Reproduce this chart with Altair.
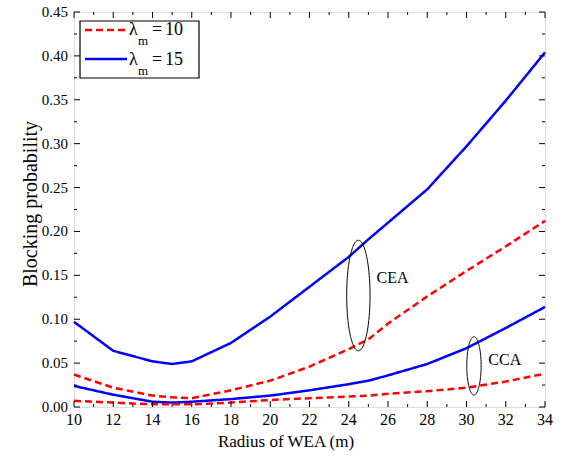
import altair as alt
import numpy as np
import pandas as pd

# ---------------- data ----------------
radius = [10, 12, 14, 15, 16, 18, 20, 22, 24, 25, 26, 28, 30, 32, 34]
cea_l15 = [0.097, 0.064, 0.052, 0.049, 0.052, 0.073, 0.103, 0.137, 0.171, 0.191, 0.210, 0.248, 0.297, 0.349, 0.404]
cea_l10 = [0.037, 0.022, 0.013, 0.011, 0.010, 0.019, 0.030, 0.046, 0.066, 0.077, 0.095, 0.126, 0.155, 0.183, 0.212]
cca_l15 = [0.024, 0.014, 0.006, 0.005, 0.006, 0.009, 0.013, 0.019, 0.026, 0.030, 0.036, 0.049, 0.067, 0.090, 0.114]
cca_l10 = [0.007, 0.005, 0.003, 0.003, 0.003, 0.005, 0.008, 0.010, 0.012, 0.013, 0.015, 0.018, 0.022, 0.029, 0.038]

x_major = [10, 12, 14, 16, 18, 20, 22, 24, 26, 28, 30, 32, 34]
x_minor = [11, 13, 15, 17, 19, 21, 23, 25, 27, 29, 31, 33]
y_major = [0.0, 0.05, 0.10, 0.15, 0.20, 0.25, 0.30, 0.35, 0.40, 0.45]
y_minor = [0.025, 0.075, 0.125, 0.175, 0.225, 0.275, 0.325, 0.375, 0.425]

x_title = "Radius of WEA (m)"
y_title = "Blocking probability"

# ellipse annotations: centre x, centre y, half width, half height
ell_cea = (24.49, 0.127, 0.595, 0.063)
ell_cca = (30.38, 0.0469, 0.365, 0.0332)

FONT = "Liberation Serif"
W, H = 471, 395

rows = []
for name, lam, vals in [("CEA15", "15", cea_l15), ("CEA10", "10", cea_l10),
                        ("CCA15", "15", cca_l15), ("CCA10", "10", cca_l10)]:
    for xv, yv in zip(radius, vals):
        rows.append({"curve": name, "lam": lam, "x": xv, "y": yv})
df = pd.DataFrame(rows)

xs = alt.Scale(domain=[10, 34], nice=False, zero=False)
ys = alt.Scale(domain=[0, 0.45], nice=False, zero=False)


def X(field):
    return alt.X(field, scale=xs, axis=None)


def Y(field):
    return alt.Y(field, scale=ys, axis=None)


lines = alt.Chart(df).mark_line(strokeWidth=2.5).encode(
    x=X("x:Q"),
    y=Y("y:Q"),
    color=alt.Color("lam:N", scale=alt.Scale(domain=["10", "15"], range=["#ff0000", "#0000ff"]), legend=None),
    strokeDash=alt.StrokeDash("lam:N", scale=alt.Scale(domain=["10", "15"], range=[[7, 4], [1, 0]]), legend=None),
    detail="curve:N",
)


# tick marks (inward, all four sides)
def tick_layers(vals, length, axis):
    d = pd.DataFrame({"v": vals})
    base = alt.Chart(d).mark_rule(color="black", strokeWidth=1)
    if axis == "x":
        return [
            base.encode(x=X("v:Q"), y=alt.value(H), y2=alt.value(H - length)),
            base.encode(x=X("v:Q"), y=alt.value(0), y2=alt.value(length)),
        ]
    return [
        base.encode(y=Y("v:Q"), x=alt.value(0), x2=alt.value(length)),
        base.encode(y=Y("v:Q"), x=alt.value(W), x2=alt.value(W - length)),
    ]


ticks = (tick_layers(x_major, 6, "x") + tick_layers(x_minor, 3, "x")
         + tick_layers(y_major, 6, "y") + tick_layers(y_minor, 3, "y"))

# tick labels as text marks
xlab = alt.Chart(pd.DataFrame({"v": x_major})).mark_text(
    font=FONT, fontSize=16, color="black", align="center", baseline="top").encode(
    x=X("v:Q"), y=alt.value(H + 5), text=alt.Text("v:Q", format="d"))
ylab = alt.Chart(pd.DataFrame({"v": y_major})).mark_text(
    font=FONT, fontSize=15, color="black", align="right", baseline="middle").encode(
    y=Y("v:Q"), x=alt.value(-6), text=alt.Text("v:Q", format=".2f"))


# ellipses
def ellipse(params):
    cx, cy, rx, ry = params
    t = np.linspace(0, 2 * np.pi, 121)
    d = pd.DataFrame({"i": np.arange(len(t)), "x": cx + rx * np.cos(t), "y": cy + ry * np.sin(t)})
    return alt.Chart(d).mark_line(color="black", strokeWidth=1).encode(
        x=X("x:Q"), y=Y("y:Q"), order="i:Q")


one = pd.DataFrame({"a": [0]})


def txt(text, x, y, size=16, align="left", baseline="alphabetic", angle=0):
    return alt.Chart(one).mark_text(text=text, font=FONT, fontSize=size, color="black",
                                    align=align, baseline=baseline, angle=angle).encode(
        x=alt.value(x), y=alt.value(y))


titles = [
    txt(x_title, 212, H + 40, 17, align="center"),
    txt(y_title, -43, 192, 20, align="center", baseline="middle", angle=270),
]

label_df = pd.DataFrame({"t": ["CEA", "CCA"], "x": [25.42, 31.11], "y": [0.1409, 0.0478]})
labels = alt.Chart(label_df).mark_text(font=FONT, fontSize=16, color="black", align="left",
                                       baseline="alphabetic").encode(
    x=X("x:Q"), y=Y("y:Q"), text="t:N")

# legend (manual, to get the subscript)
legend = [
    alt.Chart(one).mark_rect(fill="white", stroke="black", strokeWidth=1.2).encode(
        x=alt.value(6), x2=alt.value(125), y=alt.value(9), y2=alt.value(66)),
    alt.Chart(one).mark_rule(color="#ff0000", strokeWidth=2.5, strokeDash=[7, 4]).encode(
        x=alt.value(11), x2=alt.value(53), y=alt.value(18)),
    alt.Chart(one).mark_rule(color="#0000ff", strokeWidth=2.5).encode(
        x=alt.value(11), x2=alt.value(53), y=alt.value(47)),
    txt("λ", 55, 23, 18), txt("m", 64, 33, 13), txt("=", 78, 23, 18), txt("10", 91, 23, 18),
    txt("λ", 55, 52.5, 18), txt("m", 64, 62.5, 13), txt("=", 78, 52.5, 18), txt("15", 91, 52.5, 18),
]

chart = alt.layer(lines, *ticks, xlab, ylab, *titles, ellipse(ell_cea), ellipse(ell_cca),
                  labels, *legend).properties(
    width=W, height=H,
    padding={"left": 74, "top": 12, "right": 20, "bottom": 53},
    autosize="none",
).configure_view(stroke="black", strokeWidth=1.4).configure(background="white", font=FONT)

chart.save("out.html", embed_options={"renderer": "svg", "actions": False})
